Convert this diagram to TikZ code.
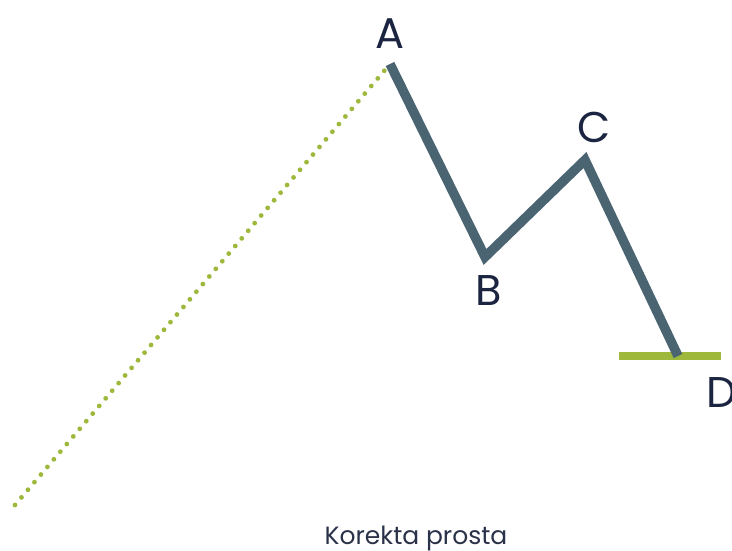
\documentclass[tikz,border=0pt]{standalone}
\usepackage{fontspec}
\setmainfont{Poppins}
\usetikzlibrary{positioning, calc}

\definecolor{waveslate}{HTML}{4A6472}
\definecolor{wavegreen}{HTML}{9DB83A}
\definecolor{labelnavy}{HTML}{1B2440}

\begin{document}
\begin{tikzpicture}[
    x=1pt, y=-1pt,
    wave/.style={
        line width=9.5pt,
        draw=waveslate,
        line join=miter,
        line cap=butt
    },
    trendline/.style={
        line width=4.8pt,
        draw=wavegreen,
        line cap=round,
        dash pattern=on 0pt off 10pt
    },
    targetline/.style={
        line width=8pt,
        draw=wavegreen
    },
    ptlabel/.style={
        font=\fontsize{43}{46}\selectfont,
        text=labelnavy,
        inner sep=0pt
    },
    caption/.style={
        font=\fontsize{25}{28}\selectfont,
        text=labelnavy!85!gray,
        inner sep=0pt
    }
]

    \useasboundingbox (0,0) rectangle (732,551);

    % Wave points
    \coordinate (start) at (15,505);
    \coordinate (pA) at (390,64);
    \coordinate (pB) at (485,257);
    \coordinate (pC) at (585,160);
    \coordinate (pD) at (678,356);
    \coordinate (dL) at (619,356);
    \coordinate (dR) at (721,356);

    % Preceding impulse (dotted)
    \draw[trendline] (start) -- (pA);

    % Target level at D
    \draw[targetline] (dL) -- (dR);

    % Correction A-B-C-D
    \draw[wave] (pA) -- (pB) -- (pC) -- (pD);

    % Labels
    \node[ptlabel] (labA) at (390,34) {A};
    \node[ptlabel] (labB) at (489,291) {B};
    \node[ptlabel] (labC) at (594,127) {C};
    \node[ptlabel, anchor=west] (labD) at (706,393) {D};

    \node[caption] (title) at (416,538) {Korekta prosta};

\end{tikzpicture}
\end{document}
